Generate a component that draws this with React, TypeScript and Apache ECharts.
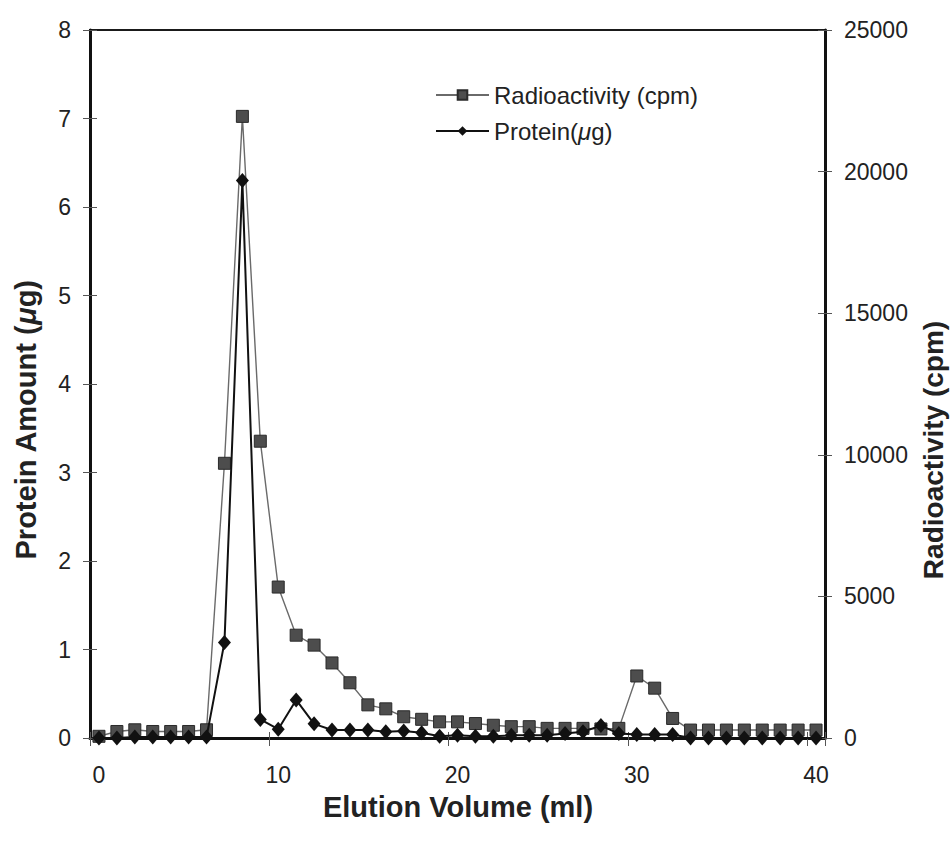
import React, { useEffect, useRef } from "react";
import * as echarts from "echarts";

const elutionVolume = [
  "0", "1", "2", "3", "4", "5", "6", "7", "8", "9", "10",
  "11", "12", "13", "14", "15", "16", "17", "18", "19", "20",
  "21", "22", "23", "24", "25", "26", "27", "28", "29", "30",
  "31", "32", "33", "34", "35", "36", "37", "38", "39", "40",
];

const radioactivityCpm = [
  60, 230, 290, 230, 230, 230, 290, 9700, 21950, 10480, 5330,
  3630, 3280, 2650, 1950, 1170, 1030, 750, 660, 570, 570,
  510, 450, 400, 400, 340, 340, 340, 320, 340, 2190,
  1760, 690, 280, 280, 280, 280, 280, 280, 280, 280,
];

const proteinUg = [
  0.0, 0.0, 0.01, 0.01, 0.01, 0.01, 0.01, 1.08, 6.3, 0.21, 0.1,
  0.43, 0.16, 0.09, 0.09, 0.09, 0.07, 0.08, 0.06, 0.02, 0.03,
  0.02, 0.02, 0.03, 0.03, 0.03, 0.05, 0.07, 0.14, 0.05, 0.04,
  0.04, 0.04, 0.0, 0.0, 0.0, 0.0, 0.0, 0.0, 0.0, 0.0,
];

const RADIO_NAME = "Radioactivity (cpm)";
const PROTEIN_NAME = "Protein(μg)";
const FONT = "'Liberation Sans', Arial, Helvetica, sans-serif";

export default function App() {
  const ref = useRef<HTMLDivElement>(null);

  useEffect(() => {
    if (!ref.current) return;
    const chart = echarts.init(ref.current, null, { renderer: "svg" });
    const grid = { left: 90, right: 127, top: 30, bottom: 107, show: true, borderColor: "#1a1a1a", borderWidth: 2, backgroundColor: "transparent" };
    const labelStyle = { fontSize: 23, color: "#222", fontFamily: FONT };
    const plain = (v: number) => String(v);

    chart.setOption({
      animation: false,
      backgroundColor: "#ffffff",
      textStyle: { fontFamily: FONT },
      grid,
      legend: {
        orient: "vertical",
        left: 430,
        top: 78,
        itemGap: 12,
        itemWidth: 53,
        itemHeight: 12,
        data: [RADIO_NAME, PROTEIN_NAME],
        textStyle: {
          fontSize: 24,
          color: "#222",
          fontFamily: FONT,
          rich: { i: { fontStyle: "italic", fontSize: 24, color: "#222", fontFamily: FONT } },
        },
        formatter: (name: string) => (name === PROTEIN_NAME ? "Protein({i|μ}g)" : name),
      },
      xAxis: [
        {
          type: "category",
          data: elutionVolume,
          boundaryGap: true,
          position: "bottom",
          axisLine: { show: true, lineStyle: { color: "#111", width: 3 } },
          axisTick: { show: true, interval: 9, length: 8, lineStyle: { color: "#555", width: 1 } },
          axisLabel: { ...labelStyle, interval: 9, margin: 25 },
          splitLine: { show: false },
        },
        {
          type: "category",
          data: elutionVolume,
          boundaryGap: true,
          position: "bottom",
          axisLine: { show: false },
          axisTick: { show: true, inside: true, interval: 9, length: 6, lineStyle: { color: "#555", width: 1 } },
          axisLabel: { show: false },
          splitLine: { show: false },
        },
      ],
      yAxis: [
        {
          type: "value",
          position: "left",
          min: 0,
          max: 8,
          interval: 1,
          axisLine: { show: true, lineStyle: { color: "#111", width: 3 } },
          axisTick: { show: true, length: 7, lineStyle: { color: "#555", width: 1 } },
          axisLabel: { ...labelStyle, margin: 19, formatter: plain },
          splitLine: { show: false },
        },
        {
          type: "value",
          position: "right",
          min: 0,
          max: 25000,
          interval: 5000,
          axisLine: { show: true, lineStyle: { color: "#111", width: 3 } },
          axisTick: { show: true, length: 7, lineStyle: { color: "#555", width: 1 } },
          axisLabel: { ...labelStyle, margin: 19, formatter: plain },
          splitLine: { show: false },
        },
        {
          type: "value",
          position: "left",
          min: 0,
          max: 8,
          interval: 1,
          axisLine: { show: false },
          axisTick: { show: true, inside: true, length: 7, lineStyle: { color: "#555", width: 1 } },
          axisLabel: { show: false },
          splitLine: { show: false },
        },
        {
          type: "value",
          position: "right",
          min: 0,
          max: 25000,
          interval: 5000,
          axisLine: { show: false },
          axisTick: { show: true, inside: true, length: 7, lineStyle: { color: "#555", width: 1 } },
          axisLabel: { show: false },
          splitLine: { show: false },
        },
      ],
      series: [
        {
          name: RADIO_NAME,
          type: "line",
          xAxisIndex: 0,
          yAxisIndex: 1,
          data: radioactivityCpm,
          symbol: "rect",
          symbolSize: 12,
          showSymbol: true,
          showAllSymbol: true,
          z: 2,
          lineStyle: { color: "#6a6a6a", width: 1.4 },
          itemStyle: { color: "#4d4d4d", borderColor: "#2a2a2a", borderWidth: 1 },
        },
        {
          name: PROTEIN_NAME,
          type: "line",
          xAxisIndex: 0,
          yAxisIndex: 0,
          data: proteinUg,
          symbol: "diamond",
          symbolSize: [13, 15],
          showSymbol: true,
          showAllSymbol: true,
          z: 3,
          lineStyle: { color: "#111", width: 2 },
          itemStyle: { color: "#111" },
        },
      ],
      graphic: [
        {
          type: "text",
          x: 458,
          y: 807,
          style: {
            text: "Elution Volume (ml)",
            fontSize: 29,
            fontWeight: "bold",
            fontFamily: FONT,
            fill: "#222",
            align: "center",
            verticalAlign: "middle",
          },
        },
        {
          type: "text",
          x: 26,
          y: 420,
          rotation: Math.PI / 2,
          style: {
            text: "Protein Amount ({i|μ}g)",
            fontSize: 29,
            fontWeight: "bold",
            fontFamily: FONT,
            fill: "#222",
            align: "center",
            verticalAlign: "middle",
            rich: {
              i: { fontStyle: "italic", fontWeight: "bold", fontSize: 29, fontFamily: FONT, fill: "#222" },
            },
          },
        },
        {
          type: "text",
          x: 933,
          y: 450,
          rotation: Math.PI / 2,
          style: {
            text: "Radioactivity (cpm)",
            fontSize: 28,
            fontWeight: "bold",
            fontFamily: FONT,
            fill: "#222",
            align: "center",
            verticalAlign: "middle",
          },
        },
      ],
    });

    return () => chart.dispose();
  }, []);

  return (
    <div
      ref={ref}
      style={{ position: "absolute", left: 0, top: 0, width: 952, height: 845, background: "#fff" }}
    />
  );
}
